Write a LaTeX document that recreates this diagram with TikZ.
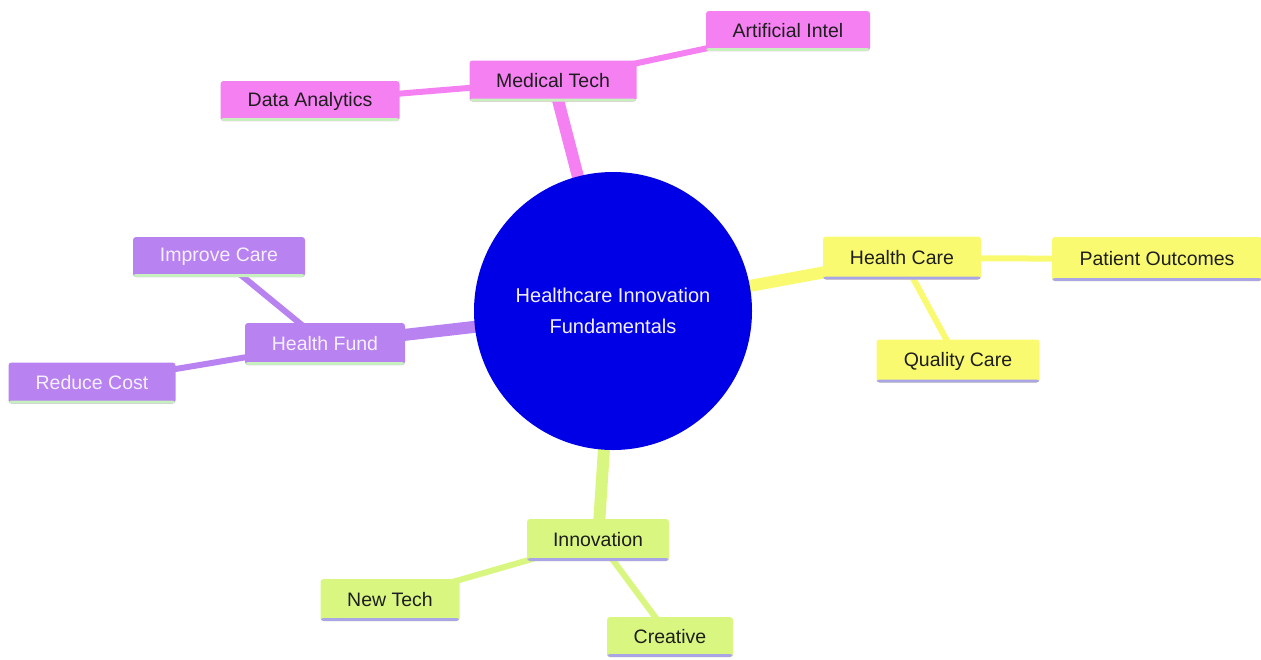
\documentclass[tikz,border=0pt]{standalone}
\usepackage{fontspec}
\setmainfont{Liberation Sans}
\usetikzlibrary{backgrounds}
\definecolor{pinkfill}{RGB}{245,128,242}
\definecolor{purplefill}{RGB}{184,130,240}
\definecolor{yellowfill}{RGB}{250,250,112}
\definecolor{greenfill}{RGB}{217,247,128}
\definecolor{greenline}{RGB}{200,240,190}
\definecolor{lavline}{RGB}{170,165,230}
\definecolor{hubblue}{RGB}{0,0,230}
\definecolor{darktext}{RGB}{30,30,30}
\definecolor{lighttext}{RGB}{245,240,255}
\tikzset{
  x=1pt, y=-1pt,
  every node/.style={font=\fontsize{19.5}{23}\selectfont},
  leaf/.style={rectangle, rounded corners=3pt, inner xsep=0pt, inner ysep=0pt,
    minimum height=41pt, text=darktext},
  bottomline/.style={path picture={\fill[#1] ([yshift=3pt]path picture bounding box.south west) rectangle (path picture bounding box.south east);}},
  pinkbox/.style={leaf, fill=pinkfill, bottomline=greenline},
  purplebox/.style={leaf, fill=purplefill, bottomline=greenline, text=lighttext},
  yellowbox/.style={leaf, fill=yellowfill, bottomline=lavline},
  greenbox/.style={leaf, fill=greenfill, bottomline=lavline},
  hub/.style={circle, fill=hubblue, minimum size=278pt, inner sep=0pt, text=lighttext, align=center, font=\fontsize{20}{23}\selectfont},
  mainedge/.style={line width=12pt},
  subedge/.style={line width=6pt},
}
\begin{document}
\begin{tikzpicture}
\useasboundingbox (0,0) rectangle (1261,659);
\node[hub] (c) at (613,311) {Healthcare Innovation\\[8pt]Fundamentals};

\node[pinkbox, minimum width=167pt] (mt) at (553,81) {Medical Tech};
\node[pinkbox, minimum width=164pt, minimum height=40pt] (ai) at (788,31) {Artificial Intel};
\node[pinkbox, minimum width=179pt, minimum height=40pt] (da) at (310,101) {Data Analytics};

\node[yellowbox, minimum width=158pt, minimum height=43pt] (hc) at (902,258) {Health Care};
\node[yellowbox, minimum width=210pt, minimum height=44pt] (po) at (1157,259) {Patient Outcomes};
\node[yellowbox, minimum width=163pt, minimum height=43pt] (qc) at (958,361) {Quality Care};

\node[purplebox, minimum width=160pt, minimum height=42pt] (hf) at (325,344) {Health Fund};
\node[purplebox, minimum width=172pt, minimum height=40pt] (ic) at (219,257) {Improve Care};
\node[purplebox, minimum width=167pt, minimum height=41pt] (rc) at (92,383) {Reduce Cost};

\node[greenbox, minimum width=142pt, minimum height=42pt] (in) at (598,540) {Innovation};
\node[greenbox, minimum width=139pt, minimum height=42pt] (nt) at (390,600) {New Tech};
\node[greenbox, minimum width=126pt, minimum height=40pt] (cr) at (670,637) {Creative};

\begin{scope}[on background layer]
\draw[mainedge, pinkfill] (c.center) -- (mt.center);
\draw[mainedge, purplefill] (c.center) -- (hf.center);
\draw[mainedge, yellowfill] (c.center) -- (hc.center);
\draw[mainedge, greenfill] (c.center) -- (in.center);
\draw[subedge, pinkfill] (mt.center) -- (ai.center);
\draw[subedge, pinkfill] (mt.center) -- (da.center);
\draw[subedge, yellowfill] (hc.center) -- (po.center);
\draw[subedge, yellowfill] (hc.center) -- (qc.center);
\draw[subedge, purplefill] (hf.center) -- (ic.center);
\draw[subedge, purplefill] (hf.center) -- (rc.center);
\draw[subedge, greenfill] (in.center) -- (nt.center);
\draw[subedge, greenfill] (in.center) -- (cr.center);
\end{scope}
\end{tikzpicture}
\end{document}
